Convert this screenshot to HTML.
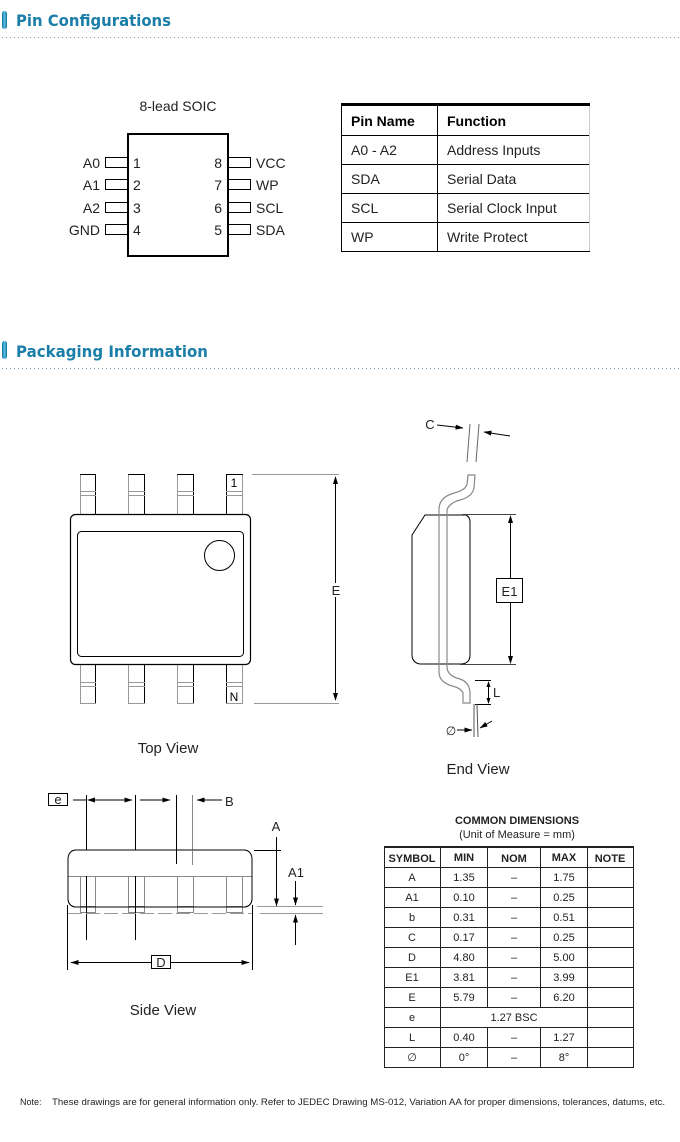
<!DOCTYPE html>
<html><head><meta charset="utf-8"><style>
html,body{margin:0;padding:0;background:#fff;width:680px;height:1142px;overflow:hidden}
svg{display:block}
text{font-family:"Liberation Sans",Arial,sans-serif}
</style></head><body>
<svg width="680" height="1142" viewBox="0 0 680 1142" xmlns="http://www.w3.org/2000/svg">
<defs>
<marker id="ah" markerWidth="8" markerHeight="6" refX="7.5" refY="3" orient="auto" markerUnits="userSpaceOnUse"><path d="M0,0.5 L8,3 L0,5.5 z" fill="#000"/></marker>
<linearGradient id="bar" x1="0" x2="1"><stop offset="0" stop-color="#0b6f99"/><stop offset="0.5" stop-color="#5cc0e8"/><stop offset="1" stop-color="#0b6f99"/></linearGradient>
</defs>

<!-- Header 1 -->
<rect x="2" y="11" width="5" height="18" rx="2.5" fill="url(#bar)"/>
<text x="16" y="26" font-weight="bold" font-size="16" fill="#1a7ea9" textLength="155" lengthAdjust="spacingAndGlyphs" style="font-family:'DejaVu Sans',sans-serif">Pin Configurations</text>
<line x1="2" y1="37.5" x2="680" y2="37.5" stroke="#6a9ab5" stroke-width="1" stroke-dasharray="1,3"/>

<!-- SOIC -->
<text x="178" y="111" font-size="14" text-anchor="middle" fill="#222">8-lead SOIC</text>
<rect x="128" y="134" width="100" height="122" fill="none" stroke="#000" stroke-width="2"/>
<g fill="none" stroke="#000" stroke-width="1">
<rect x="105.5" y="157.5" width="22" height="10"/><rect x="105.5" y="179.5" width="22" height="10"/>
<rect x="105.5" y="202.5" width="22" height="10"/><rect x="105.5" y="224.5" width="22" height="10"/>
<rect x="228.5" y="157.5" width="22" height="10"/><rect x="228.5" y="179.5" width="22" height="10"/>
<rect x="228.5" y="202.5" width="22" height="10"/><rect x="228.5" y="224.5" width="22" height="10"/>
</g>
<g font-size="14" fill="#222">
<text x="100" y="168" text-anchor="end">A0</text><text x="100" y="190" text-anchor="end">A1</text>
<text x="100" y="213" text-anchor="end">A2</text><text x="100" y="235" text-anchor="end">GND</text>
<text x="133" y="168">1</text><text x="133" y="190">2</text><text x="133" y="213">3</text><text x="133" y="235">4</text>
<text x="222" y="168" text-anchor="end">8</text><text x="222" y="190" text-anchor="end">7</text>
<text x="222" y="213" text-anchor="end">6</text><text x="222" y="235" text-anchor="end">5</text>
<text x="256" y="168">VCC</text><text x="256" y="190">WP</text><text x="256" y="213">SCL</text><text x="256" y="235">SDA</text>
</g>

<!-- Pin table -->
<rect x="341" y="103" width="249" height="3" fill="#000"/>
<g stroke="#000" stroke-width="1">
<line x1="341.5" y1="104" x2="341.5" y2="251"/>
<line x1="437.5" y1="106" x2="437.5" y2="251"/>
<line x1="341" y1="135.5" x2="590" y2="135.5"/>
<line x1="341" y1="164.5" x2="590" y2="164.5"/>
<line x1="341" y1="193.5" x2="590" y2="193.5"/>
<line x1="341" y1="222.5" x2="590" y2="222.5"/>
<line x1="341" y1="251.5" x2="590" y2="251.5"/>
</g>
<line x1="589.5" y1="106" x2="589.5" y2="251" stroke="#ccc"/>
<g font-size="14" fill="#222">
<text x="351" y="126" font-weight="bold" fill="#000">Pin Name</text><text x="447" y="126" font-weight="bold" fill="#000">Function</text>
<text x="351" y="155">A0 - A2</text><text x="447" y="155">Address Inputs</text>
<text x="351" y="184">SDA</text><text x="447" y="184">Serial Data</text>
<text x="351" y="213">SCL</text><text x="447" y="213">Serial Clock Input</text>
<text x="351" y="242">WP</text><text x="447" y="242">Write Protect</text>
</g>

<!-- Header 2 -->
<rect x="2" y="341" width="5" height="18" rx="2.5" fill="url(#bar)"/>
<text x="16" y="357" font-weight="bold" font-size="16" fill="#1a7ea9" textLength="192" lengthAdjust="spacingAndGlyphs" style="font-family:'DejaVu Sans',sans-serif">Packaging Information</text>
<line x1="2" y1="368.5" x2="680" y2="368.5" stroke="#6a9ab5" stroke-width="1" stroke-dasharray="1,3"/>

<!-- Top view -->
<g fill="#fff" stroke="#999" stroke-width="1">
<rect x="80.5" y="474.5" width="15" height="40"/><rect x="128.5" y="474.5" width="16" height="40"/>
<rect x="177.5" y="474.5" width="16" height="40"/><rect x="226.5" y="474.5" width="16" height="40"/>
<rect x="80.5" y="663.5" width="15" height="40"/><rect x="128.5" y="663.5" width="16" height="40"/>
<rect x="177.5" y="663.5" width="16" height="40"/><rect x="226.5" y="663.5" width="16" height="40"/>
</g>
<g stroke="#000" stroke-width="1">
<line x1="95.5" y1="474" x2="95.5" y2="514"/><line x1="144.5" y1="474" x2="144.5" y2="514"/><line x1="193.5" y1="474" x2="193.5" y2="514"/><line x1="226.5" y1="474" x2="226.5" y2="514"/>
<line x1="80" y1="474.5" x2="96" y2="474.5"/><line x1="128" y1="474.5" x2="145" y2="474.5"/><line x1="177" y1="474.5" x2="194" y2="474.5"/><line x1="226" y1="474.5" x2="243" y2="474.5"/>
<line x1="95.5" y1="664" x2="95.5" y2="703"/><line x1="144.5" y1="664" x2="144.5" y2="703"/><line x1="193.5" y1="664" x2="193.5" y2="703"/><line x1="226.5" y1="664" x2="226.5" y2="703"/>
</g>
<g stroke="#999" stroke-width="1">
<path d="M80 491.5h16M80 495.5h16M128 491.5h17M128 495.5h17M177 491.5h17M177 495.5h17M226 491.5h17M226 495.5h17"/>
<path d="M80 682.5h16M80 686.5h16M128 682.5h17M128 686.5h17M177 682.5h17M177 686.5h17M226 682.5h17M226 686.5h17"/>
</g>
<rect x="70.5" y="514.5" width="180" height="150" rx="5" fill="#fff" stroke="#000" stroke-width="1.2"/>
<rect x="77.5" y="531.5" width="166" height="125" rx="4" fill="none" stroke="#000" stroke-width="1"/>
<circle cx="219.5" cy="555.5" r="15" fill="none" stroke="#000"/>
<text x="234" y="487" font-size="12" text-anchor="middle">1</text>
<text x="234" y="701" font-size="12" text-anchor="middle">N</text>
<g stroke="#999"><line x1="252" y1="474.5" x2="339" y2="474.5"/><line x1="254" y1="703.5" x2="339" y2="703.5"/></g>
<path d="M335.5 476 l-2.5 8 h5 z M335.5 701 l-2.5 -8 h5 z" fill="#000"/>
<line x1="335.5" y1="480" x2="335.5" y2="583" stroke="#000"/>
<line x1="335.5" y1="597" x2="335.5" y2="697" stroke="#000"/>
<text x="336" y="595" font-size="13" text-anchor="middle" fill="#222">E</text>
<text x="168" y="753" font-size="15" text-anchor="middle" fill="#222">Top View</text>

<!-- End view -->
<text x="430" y="429" font-size="13" text-anchor="middle" fill="#222">C</text>
<line x1="437" y1="425" x2="463" y2="428" stroke="#000" marker-end="url(#ah)"/>
<line x1="510" y1="436" x2="484" y2="432" stroke="#000" marker-end="url(#ah)"/>
<g stroke="#666" stroke-width="1"><line x1="470" y1="424" x2="467" y2="462"/><line x1="479" y1="424" x2="476" y2="462"/></g>
<path d="M412 535 L425 515 L466 515 Q470 517 470 522 L470 655 Q470 663 462 664 L420 664 Q413 663 412 656 Z" fill="#fff" stroke="#000"/>
<path d="M468 475 L475 475 L474 488 Q472 497 460 500 Q449 503 447 510 L447 668 Q448 676 460 679 Q469 682 470 692 L470 703 L463 703 L463 693 Q461 688 452 686 Q439 682 439 672 L439 508 Q440 497 454 493 Q466 490 467 484 Z" fill="none" stroke="#888" stroke-width="1.2"/>
<g stroke="#444"><line x1="462" y1="514.5" x2="516" y2="514.5"/><line x1="460" y1="664.5" x2="516" y2="664.5"/></g>
<line x1="510.5" y1="520" x2="510.5" y2="578" stroke="#000"/><line x1="510.5" y1="602" x2="510.5" y2="660" stroke="#000"/>
<path d="M510.5 515 l-2.5 8 h5 z M510.5 664 l-2.5 -8 h5 z" fill="#000"/>
<rect x="496.5" y="578.5" width="26" height="24" fill="#fff" stroke="#000"/>
<text x="509.5" y="596" font-size="13" text-anchor="middle" fill="#222">E1</text>
<g stroke="#000"><line x1="475" y1="680.5" x2="491" y2="680.5"/><line x1="475" y1="704.5" x2="491" y2="704.5"/><line x1="488.5" y1="683" x2="488.5" y2="702"/></g>
<path d="M488.5 681 l-2 6 h4 z M488.5 704 l-2 -6 h4 z" fill="#000"/>
<text x="493" y="697" font-size="13" fill="#222">L</text>
<g stroke="#555"><line x1="474" y1="704" x2="474" y2="737"/><line x1="477" y1="704" x2="478" y2="737"/></g>
<text x="451" y="735" font-size="12" text-anchor="middle" fill="#222">∅</text>
<line x1="457" y1="730" x2="472" y2="730" stroke="#000" marker-end="url(#ah)"/>
<line x1="492" y1="721" x2="480" y2="728" stroke="#000" marker-end="url(#ah)"/>
<text x="478" y="774" font-size="15" text-anchor="middle" fill="#222">End View</text>

<!-- Side view -->
<rect x="48.5" y="793.5" width="19" height="12" fill="none" stroke="#000"/>
<text x="58" y="804" font-size="13" text-anchor="middle" fill="#222">e</text>
<line x1="73" y1="800" x2="86" y2="800" stroke="#000"/>
<line x1="92" y1="800" x2="132" y2="800" stroke="#000" marker-end="url(#ah)"/>
<path d="M87 800 l8 -2.5 v5 z" fill="#000"/>
<line x1="140" y1="800" x2="170" y2="800" stroke="#000" marker-end="url(#ah)"/>
<line x1="222" y1="800" x2="197" y2="800" stroke="#000" marker-end="url(#ah)"/>
<text x="225" y="806" font-size="13" fill="#222">B</text>
<g stroke="#000"><line x1="86.5" y1="795" x2="86.5" y2="940"/><line x1="135.5" y1="795" x2="135.5" y2="940"/><line x1="176.5" y1="795" x2="176.5" y2="864"/></g>
<line x1="192.5" y1="795" x2="192.5" y2="865" stroke="#888"/>
<path d="M75 850 L245 850 Q251 851 252 858 L252 900 Q251 906 245 907 L75 907 Q69 906 68 900 L68 858 Q69 851 75 850 Z" fill="#fff" stroke="none"/>
<line x1="68" y1="876.5" x2="252" y2="876.5" stroke="#888"/>
<g fill="#fff" stroke="#888">
<rect x="80.5" y="876.5" width="15" height="36"/><rect x="128.5" y="876.5" width="16" height="36"/>
<rect x="177.5" y="876.5" width="16" height="36"/><rect x="226.5" y="876.5" width="16" height="36"/>
<path d="M80 906.5h16M128 906.5h17M177 906.5h17M226 906.5h17"/>
</g>
<path d="M75 850 L245 850 Q251 851 252 858 L252 900 Q251 906 245 907 L75 907 Q69 906 68 900 L68 858 Q69 851 75 850 Z" fill="none" stroke="#000"/>
<line x1="176.5" y1="850" x2="176.5" y2="864" stroke="#000"/><line x1="192.5" y1="850" x2="192.5" y2="865" stroke="#888"/>
<line x1="86.5" y1="876" x2="86.5" y2="940" stroke="#000"/><line x1="135.5" y1="876" x2="135.5" y2="940" stroke="#000"/>
<line x1="68" y1="913.5" x2="252" y2="913.5" stroke="#999" stroke-dasharray="14,4"/>
<text x="276" y="831" font-size="13" text-anchor="middle" fill="#222">A</text>
<line x1="254" y1="850.5" x2="281" y2="850.5" stroke="#000"/>
<line x1="276.5" y1="837" x2="276.5" y2="906" stroke="#000" marker-end="url(#ah)"/>
<g stroke="#999"><line x1="257" y1="906.5" x2="323" y2="906.5"/><line x1="260" y1="913.5" x2="323" y2="913.5"/></g>
<text x="296" y="877" font-size="13" text-anchor="middle" fill="#222">A1</text>
<line x1="295.5" y1="881" x2="295.5" y2="905" stroke="#000" marker-end="url(#ah)"/>
<line x1="295.5" y1="945" x2="295.5" y2="915" stroke="#000" marker-end="url(#ah)"/>
<g stroke="#000"><line x1="67.5" y1="905" x2="67.5" y2="970"/><line x1="252.5" y1="905" x2="252.5" y2="970"/></g>
<line x1="151" y1="962.5" x2="71" y2="962.5" stroke="#000" marker-end="url(#ah)"/>
<line x1="170" y1="962.5" x2="249" y2="962.5" stroke="#000" marker-end="url(#ah)"/>
<rect x="151.5" y="955.5" width="19" height="13" fill="#fff" stroke="#000"/>
<text x="161" y="967" font-size="13" text-anchor="middle" fill="#222">D</text>
<text x="163" y="1015" font-size="15" text-anchor="middle" fill="#222">Side View</text>

<!-- Common dimensions -->
<text x="517" y="824" font-size="11" font-weight="bold" text-anchor="middle" fill="#222">COMMON DIMENSIONS</text>
<text x="517" y="838" font-size="11" text-anchor="middle" fill="#222">(Unit of Measure = mm)</text>
<rect x="384" y="846" width="250" height="2" fill="#222"/>
<g stroke="#222" stroke-width="1">
<line x1="384.5" y1="847" x2="384.5" y2="1067"/><line x1="633.5" y1="847" x2="633.5" y2="1067"/>
<line x1="440.5" y1="847" x2="440.5" y2="1067"/>
<line x1="487.5" y1="847" x2="487.5" y2="1007"/><line x1="487.5" y1="1027" x2="487.5" y2="1067"/>
<line x1="540.5" y1="847" x2="540.5" y2="1007"/><line x1="540.5" y1="1027" x2="540.5" y2="1067"/>
<line x1="587.5" y1="847" x2="587.5" y2="1067"/>
<path d="M384 867.5h250M384 887.5h250M384 907.5h250M384 927.5h250M384 947.5h250M384 967.5h250M384 987.5h250M384 1007.5h250M384 1027.5h250M384 1047.5h250M384 1067.5h250"/>
</g>
<g font-size="11" text-anchor="middle" fill="#222">
<g font-weight="bold"><text x="412" y="862">SYMBOL</text><text x="464" y="861">MIN</text><text x="514" y="862">NOM</text><text x="564" y="861">MAX</text><text x="610" y="862">NOTE</text></g>
<text x="412" y="881">A</text><text x="464" y="881">1.35</text><text x="514" y="881">–</text><text x="564" y="881">1.75</text>
<text x="412" y="901">A1</text><text x="464" y="901">0.10</text><text x="514" y="901">–</text><text x="564" y="901">0.25</text>
<text x="412" y="921">b</text><text x="464" y="921">0.31</text><text x="514" y="921">–</text><text x="564" y="921">0.51</text>
<text x="412" y="941">C</text><text x="464" y="941">0.17</text><text x="514" y="941">–</text><text x="564" y="941">0.25</text>
<text x="412" y="961">D</text><text x="464" y="961">4.80</text><text x="514" y="961">–</text><text x="564" y="961">5.00</text>
<text x="412" y="981">E1</text><text x="464" y="981">3.81</text><text x="514" y="981">–</text><text x="564" y="981">3.99</text>
<text x="412" y="1001">E</text><text x="464" y="1001">5.79</text><text x="514" y="1001">–</text><text x="564" y="1001">6.20</text>
<text x="412" y="1021">e</text><text x="514" y="1021">1.27 BSC</text>
<text x="412" y="1041">L</text><text x="464" y="1041">0.40</text><text x="514" y="1041">–</text><text x="564" y="1041">1.27</text>
<text x="412" y="1061">∅</text><text x="464" y="1061">0°</text><text x="514" y="1061">–</text><text x="564" y="1061">8°</text>
</g>

<text x="20" y="1105" font-size="9" fill="#222">Note:</text>
<text x="52" y="1105" font-size="9" fill="#222" textLength="613" lengthAdjust="spacingAndGlyphs">These drawings are for general information only. Refer to JEDEC Drawing MS-012, Variation AA for proper dimensions, tolerances, datums, etc.</text>
</svg>
</body></html>
